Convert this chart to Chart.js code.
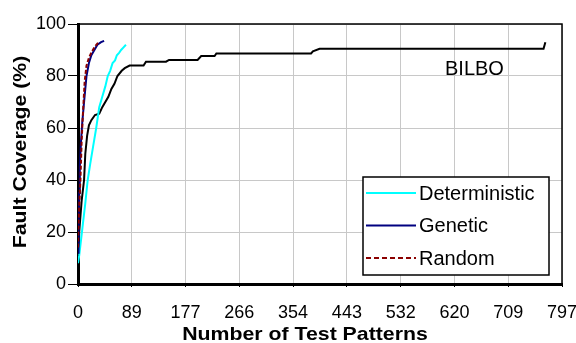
<!DOCTYPE html>
<html>
<head>
<meta charset="utf-8">
<script src="https://cdn.jsdelivr.net/npm/chart.js@4"></script>
<style>
  body { margin: 0; background: #fff; }
  #wrap { width: 576px; height: 343px; position: relative; }
</style>
</head>
<body>
<div id="wrap"><canvas id="coverage"></canvas></div>
<script>
// values
const xMax = 797.4;
const xTickLabels = ['0', '89', '177', '266', '354', '443', '532', '620', '709', '797'];
const yTickValues = [0, 20, 40, 60, 80, 100];

const detX = [0, 2, 5, 8, 12, 16, 20, 25, 30, 35, 40, 45, 49, 53, 57, 61, 64, 68, 71, 75, 79];
const detY = [8, 11, 17, 23, 31, 40, 46, 53, 60, 68, 72, 76, 80, 82, 85, 86, 88, 89, 90, 91, 92];

const genX = [0, 1, 2, 3, 5, 7, 10, 14, 18, 22, 27, 32, 38, 43];
const genY = [12, 22, 35, 45, 55, 62, 70, 80, 85, 88, 90, 92, 93, 93.5];

const ranX = [0, 0.5, 2, 4, 6, 8, 11, 14, 18, 22, 27, 32, 36];
const ranY = [14, 20, 30, 40, 55, 65, 78, 84, 87, 89, 91, 92.5, 93];

const bilboX = [0, 2, 6, 10, 12, 15, 18, 22, 28, 35, 40, 45, 50, 55, 60, 65, 72, 77, 85, 108, 112, 145, 150, 197, 203, 225, 228, 384, 387, 398, 767, 770];
const bilboY = [0, 20, 32, 40, 50, 57, 61, 63, 65, 65.5, 68, 70, 72, 75, 77, 80, 82, 83, 84, 84, 85.5, 85.5, 86.2, 86.2, 87.7, 87.7, 88.7, 88.7, 89.5, 90.5, 90.5, 93];

const seriesNames = ['Deterministic', 'Genetic', 'Random'];
const bilboLabel = 'BILBO';
const xTitle = 'Number of Test Patterns';
const yTitle = 'Fault Coverage (%)';

const FONT = '"Liberation Sans", Arial, sans-serif';
const toPoints = (xs, ys) => xs.map((x, i) => ({ x: x, y: ys[i] }));

const legendItems = [
  { text: seriesNames[0], color: '#00ffff', dash: [] },
  { text: seriesNames[1], color: '#000080', dash: [] },
  { text: seriesNames[2], color: '#8b0000', dash: [5, 3] }
];

const extras = {
  id: 'extras',
  afterDraw(chart) {
    const ctx = chart.ctx;
    const a = chart.chartArea;
    ctx.save();
    // top and right frame
    ctx.strokeStyle = '#000';
    ctx.lineWidth = 1.5;
    ctx.beginPath();
    ctx.moveTo(a.left, a.top);
    ctx.lineTo(a.right, a.top);
    ctx.lineTo(a.right, a.bottom);
    ctx.stroke();

    // legend box
    ctx.fillStyle = '#fff';
    ctx.fillRect(363, 177, 186, 98);
    ctx.lineWidth = 1.5;
    ctx.strokeRect(363, 177, 186, 98);
    ctx.font = '20px ' + FONT;
    ctx.textBaseline = 'middle';
    ctx.textAlign = 'left';
    legendItems.forEach((it, i) => {
      const y = 193 + i * 32.5;
      ctx.strokeStyle = it.color;
      ctx.lineWidth = 2;
      ctx.setLineDash(it.dash);
      ctx.beginPath();
      ctx.moveTo(366, y);
      ctx.lineTo(416, y);
      ctx.stroke();
      ctx.setLineDash([]);
      ctx.fillStyle = '#000';
      ctx.fillText(it.text, 419, y + 1);
    });

    // series label
    ctx.font = '20px ' + FONT;
    ctx.fillStyle = '#000';
    ctx.fillText(bilboLabel, 445, 69);

    // axis titles (slightly wide type, as in the picture)
    ctx.font = 'bold 19px ' + FONT;
    ctx.textAlign = 'center';
    ctx.textBaseline = 'alphabetic';
    ctx.save();
    ctx.translate(305, 340);
    ctx.scale(1.12, 1);
    ctx.fillText(xTitle, 0, 0);
    ctx.restore();
    ctx.save();
    ctx.translate(26, 152);
    ctx.rotate(-Math.PI / 2);
    ctx.scale(1.12, 1);
    ctx.fillText(yTitle, 0, 0);
    ctx.restore();
    ctx.restore();
  }
};

new Chart(document.getElementById('coverage'), {
  type: 'line',
  data: {
    datasets: [
      { label: seriesNames[2], data: toPoints(ranX, ranY), borderColor: '#8b0000', borderWidth: 2, borderDash: [4, 2] },
      { label: seriesNames[1], data: toPoints(genX, genY), borderColor: '#000080', borderWidth: 2 },
      { label: seriesNames[0], data: toPoints(detX, detY), borderColor: '#00ffff', borderWidth: 2 },
      { label: bilboLabel, data: toPoints(bilboX, bilboY), borderColor: '#000', borderWidth: 2 }
    ]
  },
  options: {
    responsive: true,
    maintainAspectRatio: false,
    animation: false,
    layout: { padding: { top: 24, right: 14, left: 0, bottom: 0 } },
    elements: { point: { radius: 0 }, line: { tension: 0, fill: false } },
    plugins: { legend: { display: false }, tooltip: { enabled: false } },
    scales: {
      x: {
        type: 'linear',
        min: 0,
        max: xMax,
        afterBuildTicks: (scale) => {
          scale.ticks = xTickLabels.map((_, i) => ({ value: i * xMax / 9 }));
        },
        afterFit: (scale) => {
          scale.height = 59;
          scale.paddingLeft = 0;
          scale.paddingRight = 0;
        },
        ticks: {
          autoSkip: false,
          maxRotation: 0,
          padding: 15,
          color: '#000',
          font: { family: FONT, size: 18 },
          callback: (v, i) => xTickLabels[i]
        },
        grid: { color: '#c8c8c8', lineWidth: 1, tickLength: 3, tickColor: '#000' },
        border: { color: '#000', width: 3 }
      },
      y: {
        min: 0,
        max: 100,
        afterBuildTicks: (scale) => {
          scale.ticks = yTickValues.map(v => ({ value: v }));
        },
        afterFit: (scale) => { scale.width = 78; },
        ticks: {
          padding: 2,
          color: '#000',
          font: { family: FONT, size: 18 }
        },
        grid: { color: '#c8c8c8', lineWidth: 1, tickLength: 10, tickColor: '#000' },
        border: { color: '#000', width: 3 }
      }
    }
  },
  plugins: [extras]
});
</script>
</body>
</html>
